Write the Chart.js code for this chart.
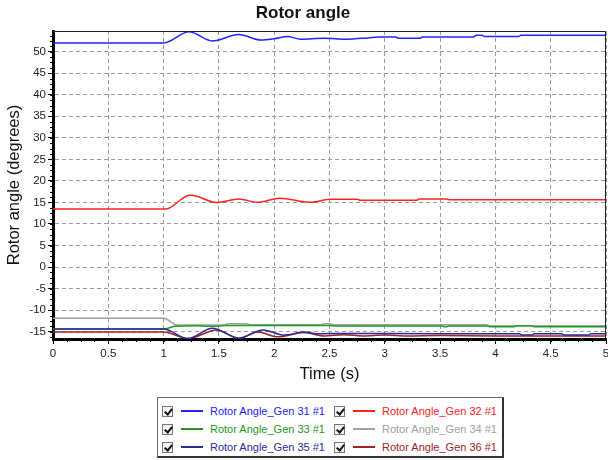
<!DOCTYPE html>
<html lang="en">
<head>
<meta charset="UTF-8">
<title>Rotor angle</title>
<script src="https://cdn.jsdelivr.net/npm/chart.js@4.4.1/dist/chart.umd.min.js"></script>
<style>
  body { margin: 0; background: #fff; font-family: "Liberation Sans", Arial, sans-serif; }
  #wrap { position: relative; width: 608px; height: 460px; overflow: hidden; }
  #chart { position: absolute; left: 0; top: 0; }
  #legend {
    position: absolute; left: 157px; top: 397px; width: 347px; height: 61px;
    box-sizing: border-box; background: #fff;
    border: 1px solid #666; border-right: 2px solid #333; border-bottom: 2px solid #333;
    padding: 4px 0 0 4px;
    display: grid; grid-template-columns: 172px 168px; grid-auto-rows: 18px;
  }
  .item { display: flex; align-items: center; font-size: 11px; white-space: nowrap; }
  .cb { position: relative; flex: none; width: 11px; height: 11px; box-sizing: border-box; border: 1px solid #777; background: #f4f4f4; }
  .cb::after {
    content: ""; position: absolute; left: 3px; top: 0px; width: 3px; height: 6px;
    border-right: 2px solid #111; border-bottom: 2px solid #111; transform: rotate(40deg);
  }
  .ln { flex: none; width: 22px; height: 1.5px; margin: 0 7px 0 8px; }
</style>
</head>
<body>
<div id="wrap">
  <canvas id="chart" width="608" height="392"></canvas>
  <div id="legend"></div>
</div>
<script>
// time (s) / rotor angle (degrees)
const gen31T = [0, 1.0, 1.23, 1.44, 1.68, 1.88, 2.0, 2.12, 2.24, 2.45, 2.65, 2.85, 2.95, 3.1, 3.12, 3.32, 3.34, 3.8, 3.83, 3.88, 3.9, 4.21, 4.23, 5];
const gen31V = [52.0, 52.0, 54.6, 52.5, 54.0, 52.7, 53.0, 53.5, 52.9, 53.1, 52.9, 53.2, 53.4, 53.4, 53.1, 53.1, 53.4, 53.4, 53.8, 53.8, 53.5, 53.5, 53.8, 53.8];

const gen32T = [0, 1.02, 1.24, 1.48, 1.68, 1.85, 2.05, 2.33, 2.51, 2.75, 2.78, 3.29, 3.31, 3.55, 3.6, 5];
const gen32V = [13.5, 13.5, 16.7, 15.0, 15.8, 15.05, 16.0, 15.05, 15.75, 15.75, 15.5, 15.5, 15.8, 15.8, 15.6, 15.6];

const gen33T = [0, 1.0, 1.1, 1.3, 1.4, 1.5, 1.55, 2.5, 2.55, 3.52, 3.55, 3.58, 3.92, 3.95, 4.17, 4.2, 4.32, 4.35, 5];
const gen33V = [-14.4, -14.4, -13.75, -13.6, -13.75, -13.75, -13.55, -13.55, -13.7, -13.7, -13.9, -13.7, -13.7, -13.85, -13.85, -13.6, -13.6, -13.85, -13.85];

const gen34T = [0, 1.0, 1.04, 1.12, 1.55, 1.58, 1.75, 1.78, 2.42, 2.45, 2.5, 2.53, 3.92, 3.95, 5];
const gen34V = [-11.9, -11.9, -12.3, -13.45, -13.45, -13.15, -13.15, -13.4, -13.4, -13.15, -13.15, -13.4, -13.4, -13.6, -13.6];

const gen35T = [0, 1.0, 1.22, 1.44, 1.68, 1.9, 2.09, 2.27, 2.4, 2.6, 3.5, 4.22, 4.24, 4.33, 4.35, 4.6, 4.62, 4.84, 4.86, 5];
const gen35V = [-14.4, -14.4, -16.6, -14.2, -16.5, -14.6, -15.8, -15.1, -15.5, -15.4, -15.5, -15.5, -15.8, -15.8, -15.5, -15.5, -15.8, -15.8, -15.5, -15.5];

const gen36T = [0, 1.0, 1.22, 1.48, 1.68, 1.85, 2.03, 2.27, 2.45, 2.63, 2.8, 3.0, 3.2, 3.5, 4.0, 5];
const gen36V = [-15.1, -15.1, -16.6, -14.6, -16.5, -15.1, -16.2, -15.2, -16.0, -15.7, -16.0, -15.8, -16.0, -15.9, -16.0, -16.0];

const seriesNames = ['Rotor Angle_Gen 31 #1', 'Rotor Angle_Gen 32 #1', 'Rotor Angle_Gen 33 #1',
                     'Rotor Angle_Gen 34 #1', 'Rotor Angle_Gen 35 #1', 'Rotor Angle_Gen 36 #1'];
const xTicks = [0, 0.5, 1, 1.5, 2, 2.5, 3, 3.5, 4, 4.5, 5];
const yTicks = [-15, -10, -5, 0, 5, 10, 15, 20, 25, 30, 35, 40, 45, 50];

const series = [
  { t: gen31T, v: gen31V, color: '#2222ff', order: 0 },
  { t: gen32T, v: gen32V, color: '#ff2222', order: 0 },
  { t: gen33T, v: gen33V, color: '#229922', order: 2 },
  { t: gen34T, v: gen34V, color: '#a0a0a0', order: 3 },
  { t: gen35T, v: gen35V, color: '#2a2aa0', order: 0 },
  { t: gen36T, v: gen36V, color: '#a02222', order: 1 }
];

// legend below the plot
const legendEl = document.getElementById('legend');
[0, 1, 2, 3, 4, 5].forEach(function (i) {
  const item = document.createElement('div');
  item.className = 'item';
  item.innerHTML = '<span class="cb"></span><span class="ln" style="background-color:' + series[i].color +
    '"></span><span style="color:' + series[i].color + '">' + seriesNames[i] + '</span>';
  legendEl.appendChild(item);
});

// top/right frame and minor tick marks
const framePlugin = {
  id: 'frame',
  afterDraw(chart) {
    const ctx = chart.ctx, a = chart.chartArea, x = chart.scales.x, y = chart.scales.y;
    ctx.save();
    ctx.strokeStyle = '#222';
    ctx.lineWidth = 1;
    ctx.beginPath();
    ctx.moveTo(a.left, a.top + 0.5);
    ctx.lineTo(a.right - 0.5, a.top + 0.5);
    ctx.lineTo(a.right - 0.5, a.bottom);
    ctx.stroke();
    ctx.strokeStyle = '#000';
    ctx.beginPath();
    for (let k = 0; k <= 40; k++) {
      const px = Math.round(x.getPixelForValue(k * 0.125)) + 0.5;
      ctx.moveTo(px, a.bottom);
      ctx.lineTo(px, a.bottom + 3);
    }
    for (let k = -13; k <= 44; k++) {
      const py = Math.round(y.getPixelForValue(k * 1.25)) + 0.5;
      if (py < a.top || py > a.bottom) continue;
      ctx.moveTo(a.left, py);
      ctx.lineTo(a.left - 3, py);
    }
    ctx.stroke();
    ctx.restore();
  }
};

const gridStyle = {
  color: '#9a9a9a',
  lineWidth: 1,
  tickLength: 5,
  tickColor: '#000',
  tickBorderDash: []
};

const tickFont = { family: '"Liberation Sans", Arial, sans-serif', size: 11.5 };
const titleFont = { family: '"Liberation Sans", Arial, sans-serif', size: 16.5 };

new Chart(document.getElementById('chart'), {
  type: 'line',
  data: {
    datasets: series.map(function (s, i) {
      return {
        label: seriesNames[i],
        data: s.t.map(function (t, j) { return { x: t, y: s.v[j] }; }),
        borderColor: s.color,
        borderWidth: 1.5,
        pointRadius: 0,
        fill: false,
        cubicInterpolationMode: 'monotone',
        order: s.order
      };
    })
  },
  options: {
    responsive: false,
    animation: false,
    layout: { padding: { left: 0, right: 2, top: 0, bottom: 0 } },
    plugins: {
      legend: { display: false },
      tooltip: { enabled: false },
      title: {
        display: true,
        text: 'Rotor angle',
        color: '#111',
        font: { family: '"Liberation Sans", Arial, sans-serif', size: 17, weight: 'bold' },
        padding: { top: 3, bottom: 7.6 }
      }
    },
    scales: {
      x: {
        type: 'linear',
        min: 0,
        max: 5,
        afterBuildTicks: function (s) { s.ticks = xTicks.map(function (v) { return { value: v }; }); },
        afterFit: function (s) { s.height = 53; s.paddingLeft = 0; s.paddingRight = 0; },
        ticks: {
          color: '#222',
          padding: 3,
          maxRotation: 0,
          font: tickFont,
          callback: function (v) { return String(v); }
        },
        grid: gridStyle,
        border: { display: true, color: '#000', width: 3, dash: [4, 3] },
        title: {
          display: true,
          text: 'Time (s)',
          color: '#111',
          font: titleFont,
          padding: { top: 0, bottom: 8 }
        }
      },
      y: {
        type: 'linear',
        min: -16.7,
        max: 54.8,
        afterBuildTicks: function (s) { s.ticks = yTicks.map(function (v) { return { value: v }; }); },
        afterFit: function (s) { s.width = 53; s.paddingTop = 0; s.paddingBottom = 0; },
        ticks: {
          color: '#222',
          padding: 2,
          font: tickFont,
          callback: function (v) { return String(v); }
        },
        grid: gridStyle,
        border: { display: true, color: '#000', width: 3, dash: [4, 3] },
        title: {
          display: true,
          text: 'Rotor angle (degrees)',
          color: '#111',
          font: titleFont,
          padding: { top: 5, bottom: 0 }
        }
      }
    }
  },
  plugins: [framePlugin]
});
</script>
</body>
</html>
